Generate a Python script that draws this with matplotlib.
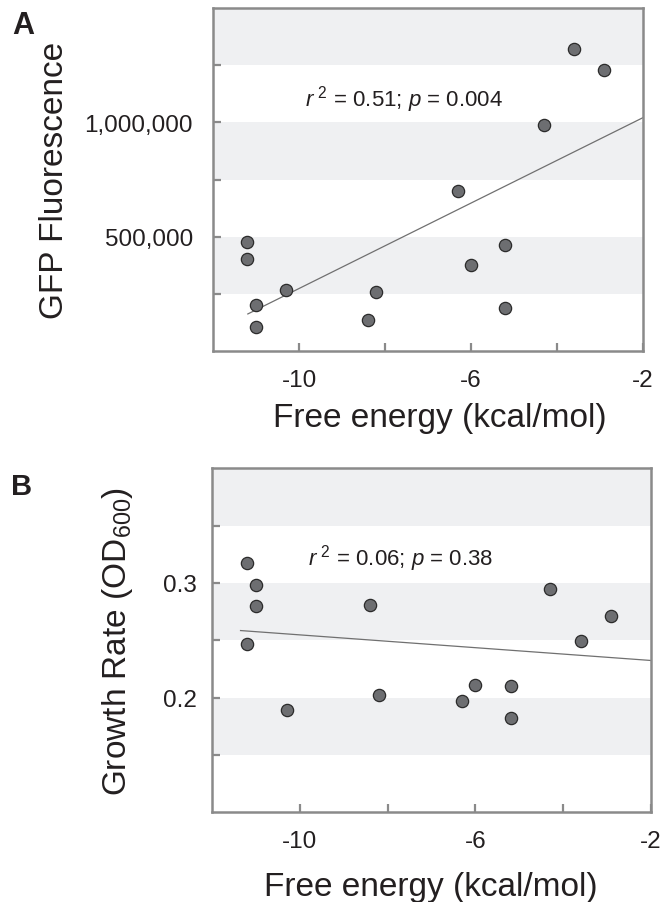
import matplotlib
matplotlib.use("Agg")
import matplotlib.pyplot as plt

plt.rcParams['font.family'] = ['Liberation Sans', 'DejaVu Sans']
plt.rcParams['mathtext.fontset'] = 'custom'
plt.rcParams['mathtext.rm'] = 'Liberation Sans'
plt.rcParams['mathtext.it'] = 'Liberation Sans:italic'

# ---- data ----
free_energy = [-11.2, -11.2, -11.0, -11.0, -10.3, -8.4, -8.2, -6.3, -6.0, -5.2, -5.2, -4.3, -3.6, -2.9]
gfp = [477000, 403000, 199000, 106000, 266000, 135000, 256000, 701000, 374000, 462000, 188000, 989000, 1321000, 1230000]

free_energy_b = [-11.2, -11.2, -11.0, -11.0, -10.3, -8.4, -8.2, -6.3, -6.0, -5.2, -5.2, -4.3, -3.6, -2.9]
growth = [0.317, 0.247, 0.298, 0.280, 0.189, 0.281, 0.202, 0.197, 0.211, 0.210, 0.182, 0.295, 0.249, 0.271]

fit_a_x = [-11.19, -2.0]
fit_a_y = [161000, 1021000]
fit_b_x = [-11.35, -2.0]
fit_b_y = [0.2585, 0.2324]

x_ticks = [-10, -8, -6, -4, -2]
x_ticklabels = ['-10', '', '-6', '', '-2']
a_yticks = [250000, 500000, 750000, 1000000, 1250000]
a_yticklabels = ['', '500,000', '', '1,000,000', '']
a_bands = [(250000, 500000), (750000, 1000000), (1250000, 1500000)]
b_yticks = [0.15, 0.20, 0.25, 0.30, 0.35]
b_yticklabels = ['', '0.2', '', '0.3', '']
b_bands = [(0.15, 0.20), (0.25, 0.30), (0.35, 0.40)]

stats_a = r'$r^{\ 2}$ = 0.51; $p$ = 0.004'
stats_b = r'$r^{\ 2}$ = 0.06; $p$ = 0.38'

# ---- style ----
TXT = '#231f20'
SPINE = '#8a8a8a'
BAND = '#eff0f2'
PT_FACE = '#6d6e71'
PT_EDGE = '#2b2b2b'

fig = plt.figure(figsize=(6.61, 9.03), dpi=100)
axA = fig.add_axes([213/661, 1-351.7/903, 430/661, 342.4/903])
axB = fig.add_axes([212/661, 1-813.3/903, 439/661, 344/903])


def style(ax, ypad):
    for s in ax.spines.values():
        s.set_color(SPINE)
        s.set_linewidth(1.8)
    ax.tick_params(axis='both', direction='in', length=6, width=1.6, color=SPINE,
                   labelsize=17.5, labelcolor=TXT)
    ax.tick_params(axis='y', pad=ypad)
    ax.set_xlim(-12, -2)
    ax.set_xticks(x_ticks)
    ax.set_xticklabels(x_ticklabels)


# Panel A
for lo, hi in a_bands:
    axA.axhspan(lo, hi, color=BAND, lw=0, zorder=0)
axA.plot(fit_a_x, fit_a_y, color='#707070', lw=0.9, zorder=2)
axA.scatter(free_energy, gfp, s=78, facecolor=PT_FACE, edgecolor=PT_EDGE, linewidth=0.9, zorder=3)
axA.set_ylim(0, 1500000)
axA.set_yticks(a_yticks)
axA.set_yticklabels(a_yticklabels)
style(axA, 14.5)
axA.tick_params(axis='x', pad=13.5)
axA.set_xlabel('Free energy (kcal/mol)', fontsize=24, color=TXT)
axA.xaxis.set_label_coords(0.528, -0.150)
axA.set_ylabel('GFP Fluorescence', fontsize=24, color=TXT)
axA.yaxis.set_label_coords(-0.333, 0.5)
axA.text(-9.86, 1072000, stats_a, fontsize=16, color=TXT, ha='left', va='baseline')

# Panel B
for lo, hi in b_bands:
    axB.axhspan(lo, hi, color=BAND, lw=0, zorder=0)
axB.plot(fit_b_x, fit_b_y, color='#707070', lw=0.9, zorder=2)
axB.scatter(free_energy_b, growth, s=78, facecolor=PT_FACE, edgecolor=PT_EDGE, linewidth=0.9, zorder=3)
axB.set_ylim(0.1, 0.4)
axB.set_yticks(b_yticks)
axB.set_yticklabels(b_yticklabels)
style(axB, 11)
axB.tick_params(axis='x', pad=13)
axB.set_xlabel('Free energy (kcal/mol)', fontsize=24, color=TXT)
axB.xaxis.set_label_coords(0.499, -0.170)
axB.set_ylabel(r'Growth Rate (OD$_{\mathregular{600}}$)', fontsize=24, color=TXT)
axB.yaxis.set_label_coords(-0.175, 0.5)
axB.text(-9.82, 0.3157, stats_b, fontsize=16, color=TXT, ha='left', va='baseline')

# panel letters
fig.text(12/661, 1-11/903, 'A', fontsize=22, fontweight='bold', color=TXT, ha='left', va='top')
fig.text(11/661, 1-473/903, 'B', fontsize=21, fontweight='bold', color=TXT, ha='left', va='top')

fig.savefig('out.png', dpi=100)
